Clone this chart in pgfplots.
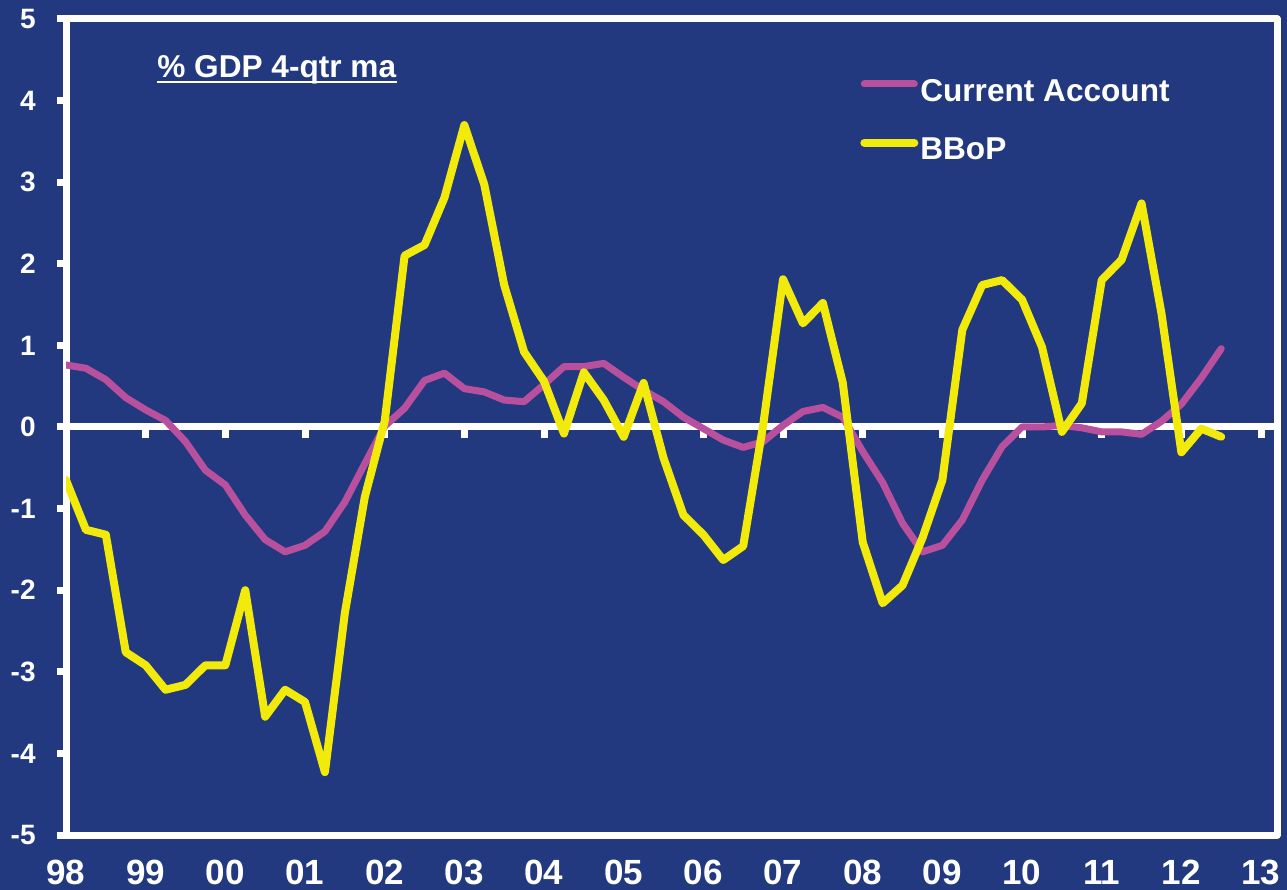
\documentclass[border=0pt]{standalone}
\usepackage{fontspec}
\setmainfont{Liberation Sans}
\usepackage{pgfplots}
\pgfplotsset{compat=1.18}
\usepackage{pgfplotstable}

\definecolor{bgblue}{RGB}{34,57,128}
\definecolor{capurple}{RGB}{185,80,158}
\definecolor{bbyellow}{RGB}{242,234,10}

% quarterly, % of GDP, 4-quarter moving average
\pgfplotstableread{
t        ca     bbop
1998.00  0.76  -0.65
1998.25  0.72  -1.26
1998.50  0.58  -1.32
1998.75  0.36  -2.76
1999.00  0.21  -2.92
1999.25  0.08  -3.22
1999.50 -0.18  -3.16
1999.75 -0.53  -2.92
2000.00 -0.71  -2.92
2000.25 -1.08  -2.00
2000.50 -1.38  -3.55
2000.75 -1.53  -3.22
2001.00 -1.45  -3.37
2001.25 -1.28  -4.23
2001.50 -0.92  -2.28
2001.75 -0.45  -0.86
2002.00  0.01   0.07
2002.25  0.23   2.10
2002.50  0.57   2.23
2002.75  0.66   2.81
2003.00  0.47   3.70
2003.25  0.43   2.97
2003.50  0.33   1.74
2003.75  0.31   0.92
2004.00  0.52   0.56
2004.25  0.74  -0.08
2004.50  0.74   0.67
2004.75  0.78   0.33
2005.00  0.61  -0.12
2005.25  0.45   0.54
2005.50  0.31  -0.38
2005.75  0.12  -1.08
2006.00 -0.02  -1.32
2006.25 -0.16  -1.63
2006.50 -0.25  -1.46
2006.75 -0.18   0.02
2007.00  0.02   1.81
2007.25  0.19   1.27
2007.50  0.24   1.52
2007.75  0.12   0.54
2008.00 -0.30  -1.41
2008.25 -0.68  -2.16
2008.50 -1.18  -1.94
2008.75 -1.53  -1.36
2009.00 -1.45  -0.65
2009.25 -1.14   1.19
2009.50 -0.65   1.74
2009.75 -0.24   1.80
2010.00  0.00   1.56
2010.25  0.00   0.98
2010.50  0.02  -0.06
2010.75 -0.01   0.29
2011.00 -0.06   1.80
2011.25 -0.06   2.05
2011.50 -0.09   2.74
2011.75  0.07   1.39
2012.00  0.28  -0.31
2012.25  0.60  -0.02
2012.50  0.96  -0.12
}\flows

\begin{document}
\begin{tikzpicture}
\fill[bgblue] (0,0) rectangle (643.5pt,445pt);
\begin{axis}[
  at={(33pt,27.5pt)}, anchor=south west,
  scale only axis, width=605.5pt, height=408pt,
  xmin=1998, xmax=2013.2, ymin=-5, ymax=5,
  axis line style={white, line width=3.5pt, line join=round},
  xtick={1998,...,2013},
  xticklabels={98,99,00,01,02,03,04,05,06,07,08,09,10,11,12,13},
  ytick={-5,...,5},
  yticklabels={-5,-4,-3,-2,-1,0,1,2,3,4,5},
  tick align=outside, ytick pos=left, xtick pos=bottom,
  major tick length=4.5pt,
  x tick style={draw=none},
  y tick style={white, line width=3.5pt},
  xticklabel style={text=white, inner sep=0pt, anchor=north,
    font=\fontsize{17.5}{17.5}\selectfont\bfseries, yshift=-8pt},
  yticklabel style={text=white, inner sep=0pt, anchor=east,
    font=\fontsize{14}{14}\selectfont\bfseries, xshift=-10.5pt},
  legend style={at={(0.6556,0.927)}, anchor=north west, draw=none, fill=none,
    text=white, font=\fontsize{15.8}{15.8}\selectfont\bfseries,
    row sep=17pt, column sep=1pt, inner sep=0pt,
    nodes={inner sep=0pt}},
  legend cell align=left,
  legend image code/.code={\draw[#1, line cap=round] (0pt,0.38em) -- (25pt,0.38em);},
  every axis plot/.append style={line join=round, line cap=round},
]
\draw[white, line width=3.5pt] (axis cs:1998,0) -- (axis cs:2013.2,0);
\pgfplotsinvokeforeach{1999,...,2013}{
  \draw[white, line width=3.5pt] (axis cs:#1,0) -- ++(0pt,-5.5pt);
}
\addplot[capurple, line width=3.5pt] table[x=t, y=ca] {\flows};
\addlegendentry{Current Account}
\addplot[bbyellow, line width=4pt] table[x=t, y=bbop] {\flows};
\addlegendentry{BBoP}
\node[anchor=base west, inner sep=0pt, text=white,
  font=\fontsize{15.8}{15.8}\selectfont\bfseries] (title)
  at (rel axis cs:0.0751,0.9277) {\% GDP 4-qtr ma};
\draw[white, line width=1.3pt] ([yshift=-2pt]title.base west) -- ([yshift=-2pt]title.base east);
\end{axis}
\end{tikzpicture}
\end{document}
